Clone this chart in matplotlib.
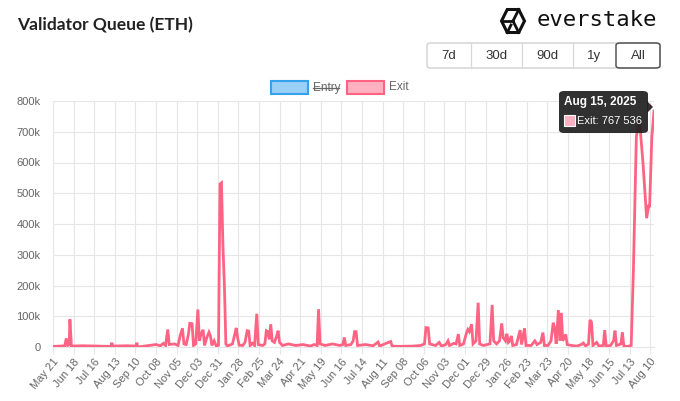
import pandas as pd
import matplotlib
matplotlib.use("Agg")
import matplotlib.pyplot as plt
from matplotlib.patches import FancyBboxPatch, Polygon, Rectangle
from matplotlib.lines import Line2D

# Exit queue (thousands of ETH) at its break points
dates = [
    "2023-05-21", "2023-05-31", "2023-06-06", "2023-06-08", "2023-06-10", "2023-06-12", "2023-06-13", "2023-06-15",
    "2023-06-30", "2023-07-20", "2023-08-08", "2023-08-09", "2023-08-10", "2023-08-29", "2023-09-11", "2023-09-12",
    "2023-09-13", "2023-09-28", "2023-10-08", "2023-10-14", "2023-10-18", "2023-10-21", "2023-10-24", "2023-10-26",
    "2023-11-02", "2023-11-07", "2023-11-10", "2023-11-13", "2023-11-15", "2023-11-18", "2023-11-21", "2023-11-23",
    "2023-11-26", "2023-11-28", "2023-12-01", "2023-12-04", "2023-12-06", "2023-12-08", "2023-12-11", "2023-12-13",
    "2023-12-16", "2023-12-19", "2023-12-21", "2023-12-23", "2023-12-26", "2023-12-29", "2024-01-01", "2024-01-03",
    "2024-01-05", "2024-01-07", "2024-01-09", "2024-01-11", "2024-01-13", "2024-01-20", "2024-01-23", "2024-01-25",
    "2024-01-27", "2024-01-29", "2024-02-03", "2024-02-06", "2024-02-09", "2024-02-11", "2024-02-13", "2024-02-16",
    "2024-02-19", "2024-02-22", "2024-02-24", "2024-03-01", "2024-03-04", "2024-03-06", "2024-03-08", "2024-03-10",
    "2024-03-12", "2024-03-14", "2024-03-17", "2024-03-20", "2024-03-22", "2024-03-24", "2024-03-28", "2024-04-05",
    "2024-04-15", "2024-04-25", "2024-05-05", "2024-05-10", "2024-05-14", "2024-05-15", "2024-05-16", "2024-05-18",
    "2024-05-25", "2024-06-04", "2024-06-14", "2024-06-18", "2024-06-20", "2024-06-22", "2024-06-29", "2024-07-02",
    "2024-07-04", "2024-07-06", "2024-07-08", "2024-07-19", "2024-07-29", "2024-08-05", "2024-08-07", "2024-08-22",
    "2024-08-24", "2024-09-02", "2024-09-22", "2024-10-02", "2024-10-07", "2024-10-09", "2024-10-12", "2024-10-14",
    "2024-10-22", "2024-10-27", "2024-10-30", "2024-11-05", "2024-11-08", "2024-11-10", "2024-11-16", "2024-11-19",
    "2024-11-22", "2024-11-24", "2024-11-29", "2024-12-03", "2024-12-05", "2024-12-07", "2024-12-10", "2024-12-12",
    "2024-12-16", "2024-12-19", "2024-12-21", "2024-12-26", "2024-12-31", "2025-01-04", "2025-01-07", "2025-01-09",
    "2025-01-13", "2025-01-17", "2025-01-20", "2025-01-22", "2025-01-25", "2025-01-27", "2025-01-29", "2025-01-31",
    "2025-02-02", "2025-02-04", "2025-02-09", "2025-02-14", "2025-02-16", "2025-02-20", "2025-02-22", "2025-03-01",
    "2025-03-06", "2025-03-09", "2025-03-14", "2025-03-17", "2025-03-19", "2025-03-24", "2025-03-28", "2025-03-31",
    "2025-04-02", "2025-04-04", "2025-04-07", "2025-04-09", "2025-04-11", "2025-04-13", "2025-04-17", "2025-04-19",
    "2025-04-25", "2025-05-02", "2025-05-08", "2025-05-11", "2025-05-14", "2025-05-18", "2025-05-20", "2025-05-22",
    "2025-05-24", "2025-05-29", "2025-06-01", "2025-06-07", "2025-06-09", "2025-06-11", "2025-06-17", "2025-06-21",
    "2025-06-23", "2025-06-25", "2025-06-29", "2025-07-01", "2025-07-03", "2025-07-05", "2025-07-10", "2025-07-15",
    "2025-07-18", "2025-07-22", "2025-07-26", "2025-07-29", "2025-07-31", "2025-08-05", "2025-08-08", "2025-08-09",
    "2025-08-12", "2025-08-15",
]
exit_k = [
    2, 3, 4, 28, 5, 8, 90, 3,
    4, 3, 2, 14, 3, 4, 3, 14,
    0, 5, 8, 4, 12, 5, 57, 8,
    10, 5, 38, 61, 10, 8, 40, 77,
    76, 5, 10, 122, 20, 40, 56, 5,
    30, 48, 36, 5, 20, 3, 6, 530,
    534, 330, 200, 10, 3, 10, 40, 62,
    30, 6, 5, 15, 53, 52, 5, 12,
    5, 108, 8, 5, 10, 53, 50, 25,
    74, 20, 15, 35, 53, 15, 5, 10,
    5, 8, 3, 8, 5, 60, 123, 10,
    5, 10, 5, 8, 31, 5, 8, 20,
    50, 50, 5, 8, 4, 16, 3, 18,
    3, 2, 3, 5, 10, 63, 62, 10,
    5, 15, 3, 8, 20, 5, 12, 10,
    42, 5, 10, 45, 57, 50, 74, 10,
    20, 144, 10, 5, 8, 10, 137, 20,
    10, 20, 77, 30, 20, 43, 15, 20,
    36, 5, 8, 55, 8, 61, 5, 5,
    20, 8, 15, 47, 5, 5, 20, 79,
    60, 10, 120, 20, 111, 20, 41, 8,
    5, 3, 8, 13, 3, 10, 88, 81,
    5, 15, 3, 5, 55, 3, 5, 20,
    53, 5, 8, 10, 47, 3, 2, 5,
    250, 684, 745, 660, 600, 419, 462, 455,
    680, 767.536,
]
tick_dates = pd.date_range("2023-05-21", "2025-08-10", freq="28D")
y_ticks = [0, 100, 200, 300, 400, 500, 600, 700, 800]
y_labels = ["0"] + [f"{v}k" for v in y_ticks[1:]]
ranges = ["7d", "30d", "90d", "1y", "All"]

W, H = 680, 401
plt.rcParams["font.family"] = ["Liberation Sans", "DejaVu Sans"]

def fx(x):
    return x / W

def fy(y):
    return 1 - y / H

pink = "#ff6384"
blue = "#36a2eb"
grid = "#e6e6e6"
tick_col = "#666666"

fig = plt.figure(figsize=(W / 100, H / 100), dpi=100)
ax = fig.add_axes([fx(53), fy(347), fx(654) - fx(53), fy(101) - fy(347)])

x = pd.to_datetime(dates)
ax.plot(x, exit_k, color=pink, lw=2.0, solid_joinstyle="miter", zorder=3)

ax.set_xlim(pd.Timestamp("2023-05-21"), pd.Timestamp("2025-08-15"))
ax.set_ylim(0, 800)
ax.set_yticks(y_ticks)
ax.set_yticklabels(y_labels)
ax.set_xticks(tick_dates)
ax.set_xticklabels([d.strftime("%b %d") for d in tick_dates], rotation=50,
                   ha="right", rotation_mode="anchor")
ax.tick_params(axis="both", colors=grid, labelcolor=tick_col, labelsize=8, length=5, width=0.8)
ax.tick_params(axis="x", pad=2)
ax.tick_params(axis="y", length=0, pad=9)
ax.grid(True, color=grid, lw=0.8)
for s in ["top", "right"]:
    ax.spines[s].set_visible(False)
for s in ["left", "bottom"]:
    ax.spines[s].set_color(grid)
ax.set_axisbelow(True)

# title
fig.text(fx(17), fy(25), "Validator Queue (ETH)", fontsize=12.5, fontweight="bold",
         color="#222222", va="center", ha="left", family=["Lato", "DejaVu Sans"])

# everstake logo
hx, hy, hr = 513, 21, 11.5
hexagon = [(hx - hr, hy), (hx - hr / 2, hy - hr), (hx + hr / 2, hy - hr),
           (hx + hr, hy), (hx + hr / 2, hy + hr), (hx - hr / 2, hy + hr)]
fig.add_artist(Polygon([(fx(a), fy(b)) for a, b in hexagon], closed=True, fill=False,
                       ec="#111111", lw=2.2, transform=fig.transFigure))
for (a0, b0), (a1, b1) in [((hx - hr, hy), (hx, hy)), ((hx, hy), (hx + hr / 2, hy - hr)),
                           ((hx, hy), (hx + hr / 2, hy + hr)), ((hx - hr / 2, hy + hr), (hx - 2, hy + 4))]:
    fig.add_artist(Line2D([fx(a0), fx(a1)], [fy(b0), fy(b1)], color="#111111", lw=2.0,
                          transform=fig.transFigure))
fig.text(fx(537), fy(20), "everstake", fontsize=16, color="#111111", va="center",
         ha="left", family="DejaVu Sans Mono")

# range buttons
fig.add_artist(FancyBboxPatch((fx(427), fy(68)), fx(660) - fx(427), fy(43) - fy(68),
                              boxstyle="round,pad=0,rounding_size=0.006", fc="white",
                              ec="#d0d0d0", lw=1.0, transform=fig.transFigure))
edges = [427, 471, 522, 573, 616, 660]
for i, lab in enumerate(ranges):
    if 0 < i < len(ranges) - 1:
        fig.add_artist(Line2D([fx(edges[i])] * 2, [fy(43), fy(68)], color="#d8d8d8", lw=0.9,
                              transform=fig.transFigure))
    fig.text(fx((edges[i] + edges[i + 1]) / 2), fy(56), lab, fontsize=9.5, color="#333333",
             ha="center", va="center")
fig.add_artist(FancyBboxPatch((fx(616), fy(68)), fx(660) - fx(616), fy(43) - fy(68),
                              boxstyle="round,pad=0,rounding_size=0.006", fc="none",
                              ec="#555555", lw=1.1, transform=fig.transFigure))

# legend
for x0, fc, ec, lab in [(271, "#9ad0f5", blue, "Entry"), (347, "#ffb1c1", pink, "Exit")]:
    fig.add_artist(Rectangle((fx(x0), fy(94)), fx(37), fy(81) - fy(94), fc=fc, ec=ec, lw=1.5,
                             transform=fig.transFigure))
    fig.text(fx(x0 + 42), fy(87.5), lab, fontsize=8.5, color="#666666", ha="left", va="center")
fig.add_artist(Line2D([fx(313), fx(339)], [fy(87.5), fy(87.5)], color="#666666", lw=0.9,
                      transform=fig.transFigure))

# tooltip
fig.add_artist(FancyBboxPatch((fx(559), fy(133)), fx(648) - fx(559), fy(91) - fy(133),
                              boxstyle="round,pad=0,rounding_size=0.008", fc="#1f1f1f",
                              ec="none", alpha=0.92, transform=fig.transFigure, zorder=5))
fig.add_artist(Polygon([(fx(647), fy(101)), (fx(653), fy(107)), (fx(647), fy(113))],
                       closed=True, fc="#1f1f1f", ec="none", alpha=0.92,
                       transform=fig.transFigure, zorder=5))
fig.text(fx(564), fy(102), "Aug 15, 2025", fontsize=8.5, fontweight="bold", color="white",
         ha="left", va="center", zorder=6)
fig.add_artist(Rectangle((fx(564), fy(125.5)), fx(11), fy(114.5) - fy(125.5), fc="#ffb1c1",
                         ec="white", lw=0.8, transform=fig.transFigure, zorder=6))
fig.text(fx(577), fy(120.5), "Exit: 767 536", fontsize=8, color="white",
         ha="left", va="center", zorder=6)

fig.savefig("out.png", dpi=100)
